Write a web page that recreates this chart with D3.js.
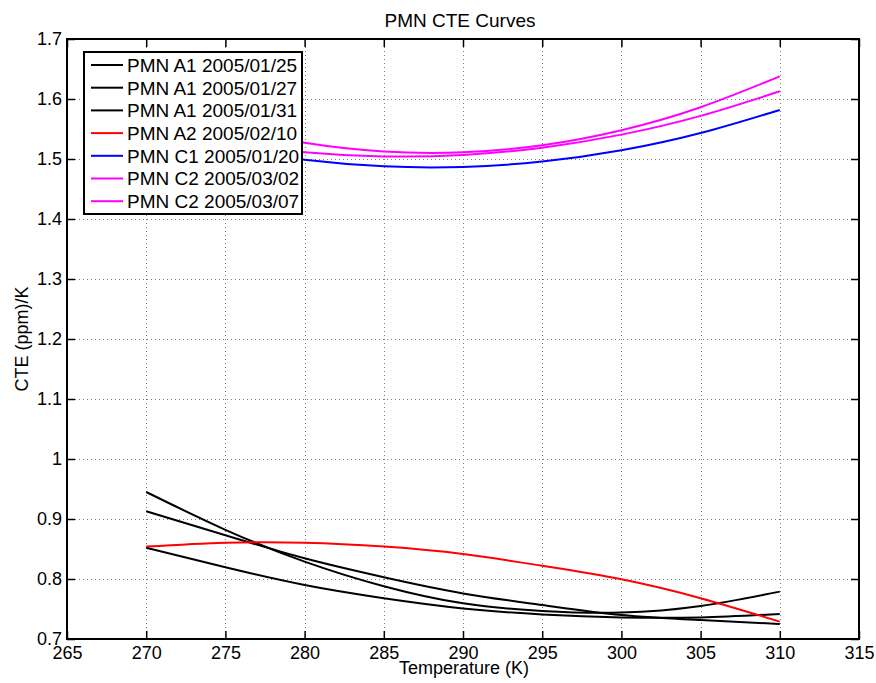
<!DOCTYPE html>
<meta charset="utf-8">
<script src="https://d3js.org/d3.v7.min.js"></script>
<style>
  body { margin: 0; background: #fff; }
  text { font-family: "Liberation Sans", Arial, sans-serif; fill: #000; }
</style>
<svg id="chart" width="876" height="683"></svg>
<script>
  // temperatures (K)
  var temps = [270, 275, 280, 285, 290, 295, 300, 305, 310];

  // CTE values (ppm/K)
  var a1_0125 = [0.945, 0.882, 0.829, 0.788, 0.7595, 0.7467, 0.744, 0.755, 0.779];
  var a1_0127 = [0.913, 0.873, 0.8345, 0.803, 0.776, 0.7567, 0.740, 0.7317, 0.725];
  var a1_0131 = [0.852, 0.8195, 0.790, 0.768, 0.751, 0.741, 0.736, 0.736, 0.7417];
  var a2_0210 = [0.854, 0.8605, 0.8605, 0.854, 0.8417, 0.822, 0.7995, 0.768, 0.729];
  var c1_0120 = [1.550, 1.5195, 1.4987, 1.4878, 1.4868, 1.4957, 1.5145, 1.5433, 1.5818];
  var c2_0302 = [1.5955, 1.5546, 1.5269, 1.5124, 1.5111, 1.5229, 1.548, 1.5863, 1.6378];
  var c2_0307 = [1.5544, 1.5281, 1.5114, 1.5043, 1.5068, 1.5189, 1.5406, 1.5719, 1.6128];

  var seriesNames = ["PMN A1 2005/01/25", "PMN A1 2005/01/27", "PMN A1 2005/01/31",
                     "PMN A2 2005/02/10", "PMN C1 2005/01/20", "PMN C2 2005/03/02", "PMN C2 2005/03/07"];
  var seriesValues = [a1_0125, a1_0127, a1_0131, a2_0210, c1_0120, c2_0302, c2_0307];
  var seriesColors = ["#000", "#000", "#000", "#ff0000", "#0000ff", "#ff00ff", "#ff00ff"];

  var xTicks = [265, 270, 275, 280, 285, 290, 295, 300, 305, 310, 315];
  var yTicks = [0.7, 0.8, 0.9, 1, 1.1, 1.2, 1.3, 1.4, 1.5, 1.6, 1.7];

  var svg = d3.select("#chart");
  var plotL = 67, plotR = 859, plotT = 39, plotB = 639;

  var x = d3.scaleLinear().domain([265, 315]).range([plotL, plotR]);
  var y = d3.scaleLinear().domain([0.7, 1.7]).range([plotB, plotT]);

  // grid
  var grid = svg.append("g")
      .attr("stroke", "#7a7a7a")
      .attr("stroke-width", 1)
      .attr("stroke-dasharray", "1,3");
  grid.selectAll(".gx")
    .data(xTicks.slice(1, -1))
    .enter().append("line")
      .attr("x1", function(d){ return Math.round(x(d)) + 0.5 })
      .attr("x2", function(d){ return Math.round(x(d)) + 0.5 })
      .attr("y1", plotT).attr("y2", plotB);
  grid.selectAll(".gy")
    .data(yTicks.slice(1, -1))
    .enter().append("line")
      .attr("y1", function(d){ return Math.round(y(d)) + 0.5 })
      .attr("y2", function(d){ return Math.round(y(d)) + 0.5 })
      .attr("x1", plotL).attr("x2", plotR);

  // curves
  var line = d3.line()
      .x(function(d){ return x(d[0]) })
      .y(function(d){ return y(d[1]) })
      .curve(d3.curveNatural);

  svg.append("g")
    .selectAll("path")
    .data(seriesValues)
    .enter()
    .append("path")
      .attr("fill", "none")
      .attr("stroke", function(d, i){ return seriesColors[i] })
      .attr("stroke-width", 2)
      .attr("d", function(d){ return line(d3.zip(temps, d)) });

  // axes (ticks inside, mirrored on top and right)
  var tickLen = 8;
  svg.append("g")
      .attr("transform", "translate(0," + plotB + ")")
      .call(d3.axisBottom(x).tickValues(xTicks).tickSize(-tickLen).tickPadding(7).tickFormat(d3.format("d")))
      .call(function(g){ g.select(".domain").remove() })
      .selectAll("text").style("font-size", "18px").attr("font-family", null);
  svg.append("g")
      .attr("transform", "translate(0," + plotT + ")")
      .call(d3.axisTop(x).tickValues(xTicks).tickSize(-tickLen).tickFormat(""))
      .call(function(g){ g.select(".domain").remove() });
  svg.append("g")
      .attr("transform", "translate(" + plotL + ",0)")
      .call(d3.axisLeft(y).tickValues(yTicks).tickSize(-tickLen).tickPadding(5).tickFormat(d3.format("")))
      .call(function(g){ g.select(".domain").remove() })
      .selectAll("text").style("font-size", "18px").attr("font-family", null);
  svg.append("g")
      .attr("transform", "translate(" + plotR + ",0)")
      .call(d3.axisRight(y).tickValues(yTicks).tickSize(-tickLen).tickFormat(""))
      .call(function(g){ g.select(".domain").remove() });
  svg.selectAll(".tick line").attr("stroke", "#000").attr("stroke-width", 1.5);
  svg.selectAll("g[font-family]").attr("font-family", null).attr("font-size", null);

  svg.append("rect")
      .attr("x", plotL).attr("y", plotT)
      .attr("width", plotR - plotL).attr("height", plotB - plotT)
      .attr("fill", "none").attr("stroke", "#000").attr("stroke-width", 2);

  // legend
  var leg = svg.append("g");
  leg.append("rect")
      .attr("x", 84).attr("y", 52).attr("width", 218).attr("height", 162)
      .attr("fill", "#fff").attr("stroke", "#000").attr("stroke-width", 2);
  var rows = leg.selectAll(".row")
    .data(seriesNames)
    .enter().append("g")
      .attr("transform", function(d, i){ return "translate(0," + (65 + i * 22.7) + ")" });
  rows.append("line")
      .attr("x1", 91).attr("x2", 123)
      .attr("stroke", function(d, i){ return seriesColors[i] })
      .attr("stroke-width", 2);
  rows.append("text")
      .attr("x", 127).attr("dy", "0.36em")
      .style("font-size", "19px")
      .text(function(d){ return d });

  // title and labels
  svg.append("text")
      .attr("x", 460).attr("y", 27)
      .attr("text-anchor", "middle")
      .style("font-size", "19px")
      .text("PMN CTE Curves");
  svg.append("text")
      .attr("x", 464).attr("y", 674)
      .attr("text-anchor", "middle")
      .style("font-size", "18px")
      .text("Temperature (K)");
  svg.append("text")
      .attr("transform", "translate(28," + ((plotT + plotB) / 2) + ") rotate(-90)")
      .attr("text-anchor", "middle")
      .style("font-size", "18px")
      .text("CTE (ppm)/K");
</script>
